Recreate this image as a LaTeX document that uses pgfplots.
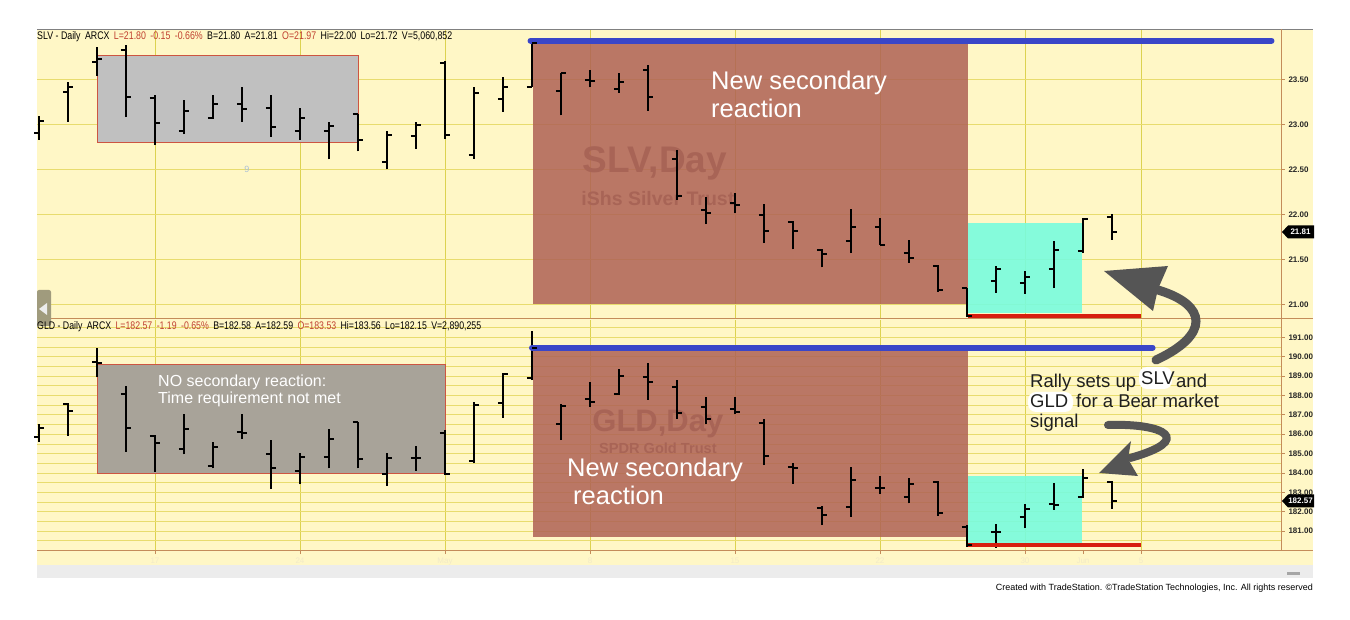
\documentclass[border=0pt]{standalone}
\usepackage{pgfplots}
\pgfplotsset{compat=1.18}
\usepackage{pgfplotstable}
\usepackage{fontspec}
\setmainfont{Liberation Sans}
\definecolor{bgY}{RGB}{255,247,198}
\definecolor{gridV}{RGB}{220,210,80}
\definecolor{gridH}{RGB}{232,220,110}
\definecolor{axBrown}{RGB}{196,140,90}
\definecolor{rectBrown}{RGB}{175,97,85}
\definecolor{rectGrey}{RGB}{192,192,192}
\definecolor{rectGreyB}{RGB}{168,163,153}
\definecolor{rectCyan}{RGB}{120,252,222}
\definecolor{edgeRed}{RGB}{205,85,65}
\definecolor{lineBlue}{RGB}{58,70,200}
\definecolor{lineRed}{RGB}{215,30,15}
\definecolor{hdrRed}{RGB}{192,64,48}
\definecolor{arrowGrey}{RGB}{85,85,85}
\definecolor{wmBrown}{RGB}{168,100,86}
\definecolor{stripGrey}{RGB}{236,236,236}
\definecolor{paleTxt}{RGB}{242,234,200}
\definecolor{tabGrey}{RGB}{160,155,125}

\pgfdeclareplotmark{otick}{\pgfpathmoveto{\pgfqpoint{-5pt}{0pt}}\pgfpathlineto{\pgfqpoint{0pt}{0pt}}\pgfusepathqstroke}
\pgfdeclareplotmark{ctick}{\pgfpathmoveto{\pgfqpoint{0pt}{0pt}}\pgfpathlineto{\pgfqpoint{5pt}{0pt}}\pgfusepathqstroke}

% SLV daily bars (i = trading-day index, 0 = Apr 17)
\pgfplotstableread{
i o h l c
-4 22.90 23.09 22.83 23.04
-3 23.36 23.47 23.03 23.42
-2 23.69 23.86 23.54 23.73
-1 23.83 23.88 23.08 23.30
0 23.29 23.33 22.77 23.02
1 22.93 23.27 22.89 23.15
2 23.07 23.33 23.06 23.23
3 23.23 23.42 23.03 23.17
4 23.18 23.33 22.86 22.97
5 22.93 23.18 22.83 23.07
6 22.93 23.03 22.61 22.98
7 23.11 23.12 22.70 22.83
8 22.58 22.93 22.50 22.88
9 22.87 23.03 22.73 22.99
10 23.68 23.70 22.84 22.88
11 22.66 23.41 22.62 23.35
12 23.28 23.53 23.14 23.42
13 23.41 23.91 23.41 23.90
14 23.37 23.57 23.10 23.57
15 23.49 23.60 23.41 23.48
16 23.39 23.57 23.35 23.47
17 23.60 23.66 23.15 23.30
18 22.62 22.72 22.16 22.20
19 22.05 22.19 21.89 22.02
20 22.13 22.24 22.01 22.10
21 21.99 22.11 21.68 21.81
22 21.92 21.93 21.61 21.81
23 21.60 21.62 21.41 21.56
24 21.70 22.06 21.57 21.86
25 21.86 21.96 21.66 21.66
26 21.57 21.71 21.46 21.51
27 21.43 21.44 21.14 21.16
28 21.18 21.18 20.86 20.87
29 21.26 21.43 21.13 21.39
30 21.24 21.37 21.12 21.30
31 21.39 21.70 21.18 21.60
32 21.59 21.96 21.57 21.95
33 21.97 22.00 21.72 21.80
}\slvdata

% GLD daily bars
\pgfplotstableread{
i o h l c
-4 185.87 186.51 185.61 186.31
-3 187.56 187.63 185.93 187.20
-2 189.75 190.44 188.94 189.70
-1 188.06 188.51 185.10 186.34
0 185.91 185.96 184.06 185.53
1 185.22 187.03 184.96 186.26
2 184.36 185.61 184.24 185.36
3 186.13 187.05 185.75 186.05
4 184.98 185.70 183.17 184.24
5 184.10 185.05 183.41 184.81
6 184.84 186.26 184.24 185.75
7 186.65 186.65 184.24 184.72
8 183.93 185.02 183.33 184.76
9 184.79 185.39 184.12 184.79
10 186.08 186.22 183.89 183.95
11 184.62 187.65 184.50 187.51
12 187.60 189.18 186.86 189.11
13 188.89 191.34 188.80 190.45
14 186.53 187.56 185.70 187.48
15 187.82 188.68 187.42 187.65
16 188.06 189.36 188.03 189.01
17 188.97 189.67 187.77 188.72
18 188.46 188.80 186.79 187.11
19 187.42 187.94 186.51 186.79
20 187.29 187.91 187.03 187.17
21 186.57 186.79 184.41 184.89
22 184.32 184.50 183.43 184.24
23 182.17 182.31 181.31 181.83
24 182.26 184.32 181.74 183.64
25 183.21 183.86 182.90 183.21
26 182.77 183.75 182.43 183.41
27 183.55 183.58 181.79 181.91
28 181.22 181.31 180.19 180.28
29 180.96 181.35 180.14 180.96
30 181.74 182.38 181.14 182.12
31 182.38 183.47 182.09 182.34
32 182.77 184.20 182.72 183.76
33 183.53 183.56 182.15 182.57
}\glddata

\pgfplotsset{
  panel/.style={
    scale only axis, width=1244pt,
    xmin=-4.069, xmax=38.828,
    axis line style={draw=none},
    ytick pos=right, yticklabel pos=right,
    tick align=outside, major tick length=4pt, minor tick length=0pt,
    scaled y ticks=false,
    ytick style={axBrown, line width=0.8pt},
    yticklabel style={font=\bfseries\fontsize{8}{9}\selectfont, text=black!85,
      /pgf/number format/.cd, fixed, fixed zerofill, precision=2, assume math mode=true},
    x grid style={gridV, line width=0.9pt},
    y grid style={gridH, line width=0.8pt},
    minor y grid style={gridH, line width=0.8pt},
  },
  bars/.style={black, line width=2.3pt, -, quiver={u=0, v=\thisrow{h}-\thisrow{l}}},
  otk/.style={only marks, mark=otick, mark options={black, line width=2pt}},
  ctk/.style={only marks, mark=ctick, mark options={black, line width=2pt}},
}

\begin{document}
\begin{tikzpicture}
\begin{scope}[x=1pt,y=-1pt,yshift=619pt]
\fill[white] (0,0) rectangle (1350,619);
\fill[bgY] (37,29) rectangle (1313,565);
\fill[stripGrey] (37,565) rectangle (1313,578);
\fill[gray!70] (1287,571.5) rectangle (1300,574.5);
\end{scope}

% ---------------- SLV panel ----------------
\begin{axis}[panel, at={(37pt,301pt)}, anchor=south west, height=289pt,
  ymin=20.848, ymax=24.059,
  xtick={0,5,10,15,20,25,30,34}, xticklabels={,,,,,,,}, xtick style={draw=none},
  ytick={21,21.5,22,22.5,23,23.5},
  grid=major]
\addplot[fill=rectGrey, draw=edgeRed, line width=0.8pt] coordinates {(-2,22.80) (7.02,22.80) (7.02,23.77) (-2,23.77)} -- cycle;
\addplot[fill=rectBrown, fill opacity=0.85, draw=none] coordinates {(13.03,21.00) (28.03,21.00) (28.03,23.92) (13.03,23.92)} -- cycle;
\addplot[fill=rectCyan, fill opacity=0.9, draw=none] coordinates {(28.03,20.90) (31.97,20.90) (31.97,21.90) (28.03,21.90)} -- cycle;
\node[inner sep=0, font=\bfseries\fontsize{37}{40}\selectfont, text=wmBrown] at (axis cs:17.24,22.57) {SLV,Day};
\node[inner sep=0, font=\bfseries\fontsize{19.5}{22}\selectfont, text=wmBrown] at (axis cs:17.34,22.18) {iShs Silver Trust};
\addplot[bars] table[x=i, y=l] {\slvdata};
\addplot[otk] table[x=i, y=o] {\slvdata};
\addplot[ctk] table[x=i, y=c] {\slvdata};
\addplot[lineBlue, line width=6pt, line cap=round] coordinates {(12.95,23.93) (38.5,23.93)};
\addplot[lineRed, line width=4pt] coordinates {(28.03,20.87) (34,20.87)};
\end{axis}

% ---------------- GLD panel ----------------
\begin{axis}[panel, at={(37pt,69pt)}, anchor=south west, height=230pt,
  ymin=180.018, ymax=191.904,
  xtick={0,5,10,15,20,25,30,34}, xticklabels={17,24,May,8,15,22,30,5},
  extra x ticks={32}, extra x tick labels={Jun}, extra x tick style={grid=none},
  xtick pos=bottom,
  xtick style={axBrown, line width=0.8pt},
  xticklabel style={font=\fontsize{8}{9}\selectfont, text=paleTxt},
  ytick={181,182,...,191},
  minor ytick={180.5,181.5,...,191.5},
  grid=both]
\addplot[fill=rectGreyB, draw=edgeRed, line width=0.8pt] coordinates {(-2,183.98) (10.02,183.98) (10.02,189.61) (-2,189.61)} -- cycle;
\addplot[fill=rectBrown, fill opacity=0.85, draw=none] coordinates {(13.03,180.71) (28.03,180.71) (28.03,190.35) (13.03,190.35)} -- cycle;
\addplot[fill=rectCyan, fill opacity=0.9, draw=none] coordinates {(28.03,180.35) (31.97,180.35) (31.97,183.86) (28.03,183.86)} -- cycle;
\node[inner sep=0, font=\bfseries\fontsize{31}{34}\selectfont, text=wmBrown] at (axis cs:17.34,186.52) {GLD,Day};
\node[inner sep=0, font=\bfseries\fontsize{14.6}{16}\selectfont, text=wmBrown] at (axis cs:17.34,185.30) {SPDR Gold Trust};
\addplot[bars] table[x=i, y=l] {\glddata};
\addplot[otk] table[x=i, y=o] {\glddata};
\addplot[ctk] table[x=i, y=c] {\glddata};
\addplot[lineBlue, line width=6pt, line cap=round] coordinates {(13.0,190.47) (34.4,190.47)};
\addplot[lineRed, line width=4pt] coordinates {(28.03,180.28) (34,180.28)};
\end{axis}

% ---------------- overlay ----------------
\begin{scope}[x=1pt,y=-1pt,yshift=619pt]
\draw[gray, line width=0.8pt] (37,29) -- (1313,29);
\draw[axBrown, line width=1pt] (37,319) -- (1313,319);
\draw[axBrown, line width=1pt] (37,550) -- (1313,550);
\draw[axBrown, line width=1pt] (1281,29) -- (1281,550);
% left tab
\fill[tabGrey, rounded corners=2pt] (37,290) rectangle (51,326);
\fill[white!85!gray] (39,309) -- (47,303) -- (47,315) -- cycle;
% headers
\node[anchor=base west, inner sep=0] at (37,40) {\resizebox{415pt}{8pt}{\fontsize{9}{10}\selectfont SLV - Daily\enspace ARCX\enspace \textcolor{hdrRed}{L=21.80\enspace -0.15\enspace -0.66\%}\enspace B=21.80\enspace A=21.81\enspace \textcolor{hdrRed}{O=21.97}\enspace Hi=22.00\enspace Lo=21.72\enspace V=5,060,852}};
\node[anchor=base west, inner sep=0] at (37,330) {\resizebox{444pt}{8pt}{\fontsize{9}{10}\selectfont GLD - Daily\enspace ARCX\enspace \textcolor{hdrRed}{L=182.57\enspace -1.19\enspace -0.65\%}\enspace B=182.58\enspace A=182.59\enspace \textcolor{hdrRed}{O=183.53}\enspace Hi=183.56\enspace Lo=182.15\enspace V=2,890,255}};
\node[anchor=base east, inner sep=0] at (1313,590) {\resizebox{317pt}{!}{\fontsize{8}{9}\selectfont Created with TradeStation. ©TradeStation Technologies, Inc. All rights reserved}};
% small label
\node[text={rgb,255:red,170;green,192;blue,215}, font=\fontsize{9}{10}\selectfont] at (247,169) {9};
% price flags
\fill[black] (1282,232) -- (1288,225.5) -- (1314,225.5) -- (1314,238.5) -- (1288,238.5) -- cycle;
\node[text=white, font=\bfseries\fontsize{8}{9}\selectfont, inner sep=0] at (1300.5,232) {21.81};
\fill[black] (1282,501) -- (1288,494.5) -- (1314,494.5) -- (1314,507.5) -- (1288,507.5) -- cycle;
\node[text=white, font=\bfseries\fontsize{8}{9}\selectfont, inner sep=0] at (1300.5,501) {182.57};
% annotations
\node[anchor=base west, inner sep=0, text=white, font=\fontsize{25.5}{28}\selectfont] at (711,90) {New secondary};
\node[anchor=base west, inner sep=0, text=white, font=\fontsize{25.5}{28}\selectfont] at (711,118) {reaction};
\node[anchor=base west, inner sep=0, text=white, font=\fontsize{25.5}{28}\selectfont] at (567,477) {New secondary};
\node[anchor=base west, inner sep=0, text=white, font=\fontsize{25.5}{28}\selectfont] at (573,505) {reaction};
\node[anchor=base west, inner sep=0, text=white, font=\fontsize{16}{18}\selectfont] at (158,386.5) {NO secondary reaction:};
\node[anchor=base west, inner sep=0, text=white, font=\fontsize{16}{18}\selectfont] at (158,404) {Time requirement not met};
% rally text
\fill[white, rounded corners=8pt] (1139,367) rectangle (1172,389);
\fill[white, rounded corners=8pt] (1028,392) rectangle (1073,412);
\node[anchor=base west, inner sep=0, text=black!88, font=\fontsize{18.5}{20}\selectfont] at (1030,387.5) {Rally sets up};
\node[anchor=base west, inner sep=0, text=black!88, font=\fontsize{18.5}{20}\selectfont] at (1141,385) {SLV};
\node[anchor=base west, inner sep=0, text=black!88, font=\fontsize{18.5}{20}\selectfont] at (1176,387.5) {and};
\node[anchor=base west, inner sep=0, text=black!88, font=\fontsize{18.5}{20}\selectfont] at (1030,408) {GLD};
\node[anchor=base west, inner sep=0, text=black!88, font=\fontsize{18.5}{20}\selectfont] at (1076,408) {for a Bear market};
\node[anchor=base west, inner sep=0, text=black!88, font=\fontsize{18.5}{20}\selectfont] at (1030,428) {signal};
% arrows
\draw[arrowGrey, line width=9pt, line cap=round] (1156,360) .. controls (1210,335) and (1208,305) .. (1158,290);
\fill[arrowGrey] (1104,271) -- (1168,266) -- (1158,289) -- (1153,311) -- cycle;
\draw[arrowGrey, line width=8pt, line cap=round] (1108,425) .. controls (1165,423) and (1195,440) .. (1130,458);
\fill[arrowGrey] (1099,473) -- (1131,441) -- (1128,459) -- (1138,476) -- cycle;
\end{scope}
\pgfresetboundingbox
\path (0,0) rectangle (1350pt,619pt);
\end{tikzpicture}
\end{document}
